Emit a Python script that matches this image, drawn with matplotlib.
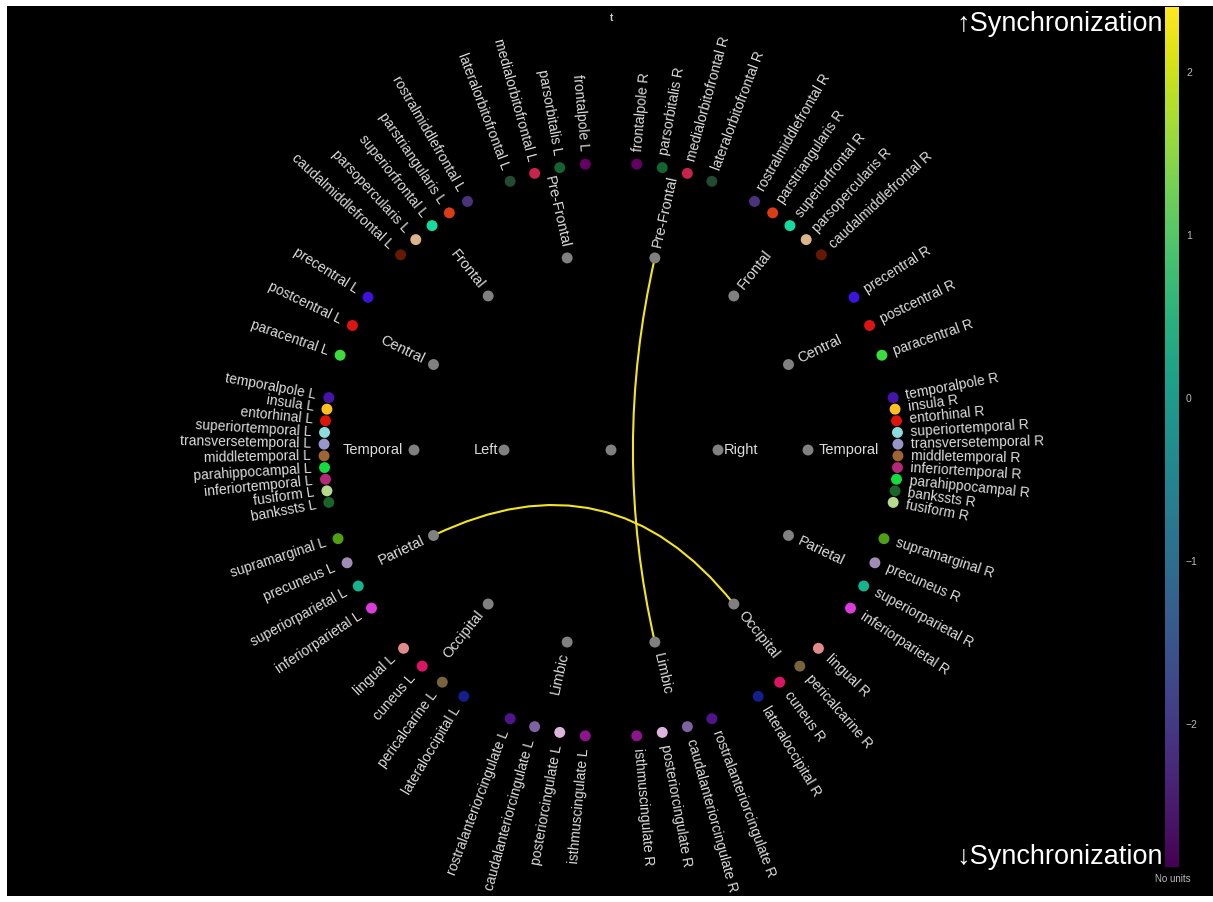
import numpy as np
import matplotlib.pyplot as plt
import matplotlib as mpl
from matplotlib.path import Path
from matplotlib.patches import PathPatch
from matplotlib.colors import Normalize

plt.rcParams['font.family'] = ['Liberation Sans', 'DejaVu Sans']

# hierarchy: hemisphere -> lobe -> region (front to back)
lobes = ["Pre-Frontal", "Frontal", "Central", "Temporal", "Parietal", "Occipital", "Limbic"]
prefrontal = ["frontalpole", "parsorbitalis", "medialorbitofrontal", "lateralorbitofrontal"]
frontal = ["rostralmiddlefrontal", "parstriangularis", "superiorfrontal", "parsopercularis",
           "caudalmiddlefrontal"]
central = ["precentral", "postcentral", "paracentral"]
temporal_L = ["temporalpole", "insula", "entorhinal", "superiortemporal", "transversetemporal",
              "middletemporal", "parahippocampal", "inferiortemporal", "fusiform", "bankssts"]
temporal_R = ["temporalpole", "insula", "entorhinal", "superiortemporal", "transversetemporal",
              "middletemporal", "inferiortemporal", "parahippocampal", "bankssts", "fusiform"]
parietal = ["supramarginal", "precuneus", "superiorparietal", "inferiorparietal"]
occipital_L = ["lingual", "cuneus", "pericalcarine", "lateraloccipital"]
occipital_R = ["lingual", "pericalcarine", "cuneus", "lateraloccipital"]
limbic = ["rostralanteriorcingulate", "caudalanteriorcingulate", "posteriorcingulate",
          "isthmuscingulate"]

regions_L = [prefrontal, frontal, central, temporal_L, parietal, occipital_L, limbic]
regions_R = [prefrontal, frontal, central, temporal_R, parietal, occipital_R, limbic]

# Desikan-Killiany atlas colours
region_colors = {
    "bankssts": "#196428", "caudalanteriorcingulate": "#7d64a0", "caudalmiddlefrontal": "#641900",
    "cuneus": "#dc1464", "entorhinal": "#dc140a", "fusiform": "#b4dc8c",
    "inferiorparietal": "#dc3cdc", "inferiortemporal": "#b42878", "isthmuscingulate": "#8c148c",
    "lateraloccipital": "#141e8c", "lateralorbitofrontal": "#234b32", "lingual": "#e18c8c",
    "medialorbitofrontal": "#c8234b", "middletemporal": "#a06432", "parahippocampal": "#14dc3c",
    "paracentral": "#3cdc3c", "parsopercularis": "#dcb48c", "parsorbitalis": "#146432",
    "parstriangularis": "#dc3c14", "pericalcarine": "#78643c", "postcentral": "#dc1414",
    "posteriorcingulate": "#dcb4dc", "precentral": "#3c14dc", "precuneus": "#a08cb4",
    "rostralanteriorcingulate": "#50148c", "rostralmiddlefrontal": "#4b327d",
    "superiorfrontal": "#14dca0", "superiorparietal": "#14b48c", "superiortemporal": "#8cdcdc",
    "supramarginal": "#50a014", "frontalpole": "#640064", "temporalpole": "#4614aa",
    "transversetemporal": "#9696c8", "insula": "#ffc020",
}

# significant connections and their t values
edges = [("Pre-Frontal R", "Limbic R"), ("Parietal L", "Occipital R")]
edge_values = [2.3, 2.3]

cbar_min, cbar_max = -2.88, 2.40
cbar_ticks = [-2, -1, 0, 1, 2]

# ---- layout ----
W, H = 1213, 902
cx, cy = 611, 450
r_hemi, r_lobe, r_leaf = 107, 197, 287
sector = 360 / 14
node_gray = "#808080"
txt_color = "#dcdcdc"


def polar(a_deg, r):
    a = np.deg2rad(a_deg)
    return cx + r * np.cos(a), cy - r * np.sin(a)


nodes = {}  # name -> (angle, radius, colour, label, label offset, fontsize)
nodes["root"] = (0, 0, node_gray, "", 0, 10)
nodes["Left"] = (180, r_hemi, node_gray, "Left", 6, 10.5)
nodes["Right"] = (0, r_hemi, node_gray, "Right", 6, 10.5)
for hemi, regs, sign in [("L", regions_L, 1), ("R", regions_R, -1)]:
    for k, (lobe, leaves) in enumerate(zip(lobes, regs)):
        theta = (k + 0.5) * sector
        nodes[f"{lobe} {hemi}"] = (90 + sign * theta, r_lobe, node_gray, lobe, 11, 10.5)
        n = len(leaves)
        step = sector / (n + 1)
        for i, leaf in enumerate(leaves):
            t = theta + (i - (n - 1) / 2) * step
            nodes[f"{leaf} {hemi}"] = (90 + sign * t, r_leaf, region_colors[leaf],
                                       f"{leaf} {hemi}", 13, 10)

fig = plt.figure(figsize=(W / 100, H / 100), dpi=100, facecolor="white")
ax = fig.add_axes([7 / W, (H - 896) / H, (W - 7) / W, 890 / H])
ax.set_facecolor("black")
ax.set_xlim(7, W)
ax.set_ylim(896, 6)
ax.set_xticks([])
ax.set_yticks([])
for s in ax.spines.values():
    s.set_visible(False)

cmap = mpl.colormaps["viridis"]
norm = Normalize(vmin=cbar_min, vmax=cbar_max)

# connections: quadratic curves bent through the centre
for (a, b), val in zip(edges, edge_values):
    pa = polar(nodes[a][0], nodes[a][1])
    pb = polar(nodes[b][0], nodes[b][1])
    path = Path([pa, (cx, cy), pb], [Path.MOVETO, Path.CURVE3, Path.CURVE3])
    ax.add_patch(PathPatch(path, facecolor="none", edgecolor=cmap(norm(val)), lw=1.5, zorder=2))

for name, (ang, r, col, label, off, fs) in nodes.items():
    x, y = polar(ang, r)
    ax.scatter(x, y, s=62, color=col, edgecolor="none", zorder=3)
    if not label:
        continue
    lx, ly = polar(ang, r + off)
    a = ang % 360
    if 90 < a < 270:
        rot, ha = a - 180, "right"
    else:
        rot, ha = (a + 180) % 360 - 180, "left"
    ax.text(lx, ly, label, rotation=rot, ha=ha, va="center", rotation_mode="anchor",
            color=txt_color, fontsize=fs, zorder=4)

ax.text(cx, 18, "t", ha="center", va="center", color="#cccccc", fontsize=7, fontweight="bold")

# colour bar
cax = fig.add_axes([1165 / W, (H - 867) / H, 14 / W, 860 / H])
cb = fig.colorbar(mpl.cm.ScalarMappable(norm=norm, cmap=cmap), cax=cax, ticks=cbar_ticks)
cb.outline.set_visible(False)
cax.tick_params(length=0, pad=5, labelsize=7.5, labelcolor="#bbbbbb")
fig.text(1173 / W, 1 - 879 / H, "No units", ha="center", va="center", color="#bbbbbb",
         fontsize=7)

fig.text(1163 / W, 1 - 24 / H, "\u2191Synchronization", ha="right", va="center",
         color="white", fontsize=19.5)
fig.text(1163 / W, 1 - 857 / H, "\u2193Synchronization", ha="right", va="center",
         color="white", fontsize=19.5)

fig.savefig("out.png", dpi=100, facecolor="white")
